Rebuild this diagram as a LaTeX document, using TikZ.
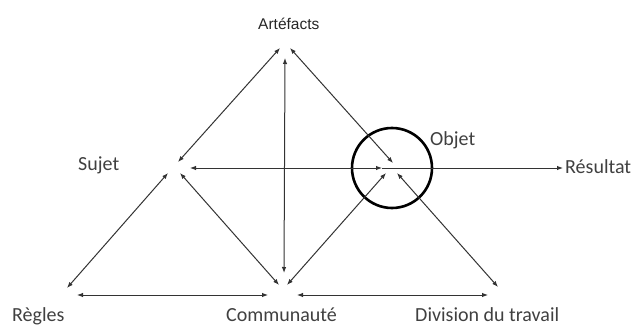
\documentclass[tikz,border=0pt]{standalone}
\usepackage{fontspec}
\setmainfont{Carlito}
\newfontfamily\arialfont{Liberation Sans}
\usetikzlibrary{arrows.meta}
\begin{document}
\begin{tikzpicture}[x=1pt,y=-1pt,
  lbl/.style={anchor=base west,inner sep=0pt,text=black!75,font=\fontsize{20}{24}\selectfont},
  link/.style={draw=black!80,line width=1pt,{Latex[length=6pt,width=4.5pt]}-{Latex[length=6pt,width=4.5pt]}},
  oneway/.style={draw=black!80,line width=1pt,-{Latex[length=6pt,width=4.5pt]}},
  ring/.style={draw=black,line width=2.6pt}]
\useasboundingbox (0,0) rectangle (634,326);
% labels
\node[anchor=base west,inner sep=0pt,text=black!85,font=\arialfont\fontsize{15.5}{18}\selectfont] (art) at (258,30) {Artéfacts};
\node[lbl] (suj) at (78,170) {Sujet};
\node[lbl] (obj) at (430,145) {Objet};
\node[lbl] (res) at (565,173) {Résultat};
\node[lbl] (reg) at (12,321) {Règles};
\node[lbl] (com) at (226,321) {Communauté};
\node[lbl] (div) at (415,321) {Division du travail};
% circle around object
\node[ring,circle,minimum size=80pt,inner sep=0pt] (ring) at (392,168) {};
% endpoints
\coordinate (artL) at (280,48);
\coordinate (artC) at (285,58);
\coordinate (artR) at (290,48);
\coordinate (sujA) at (178,162);
\coordinate (sujH) at (190,168);
\coordinate (sujL) at (168,173);
\coordinate (sujR) at (180,173);
\coordinate (objA) at (393,163);
\coordinate (objH) at (382,168);
\coordinate (objL) at (386,173);
\coordinate (objR) at (397,173);
\coordinate (resT) at (563,168);
\coordinate (regT) at (67,288);
\coordinate (regH) at (77,295);
\coordinate (comV) at (284,273);
\coordinate (comL) at (279,285);
\coordinate (comR) at (287,285);
\coordinate (comHL) at (268,295);
\coordinate (comHR) at (297,295);
\coordinate (divT) at (498,287);
\coordinate (divH) at (488,295);
% connectors
\draw[link] (artL) -- (sujA);
\draw[link] (artR) -- (objA);
\draw[link] (artC) -- (comV);
\draw[link] (sujH) -- (objH);
\draw[oneway] (objH) -- (resT);
\draw[link] (sujL) -- (regT);
\draw[link] (sujR) -- (comL);
\draw[link] (objL) -- (comR);
\draw[link] (objR) -- (divT);
\draw[link] (regH) -- (comHL);
\draw[link] (comHR) -- (divH);
\end{tikzpicture}
\end{document}
